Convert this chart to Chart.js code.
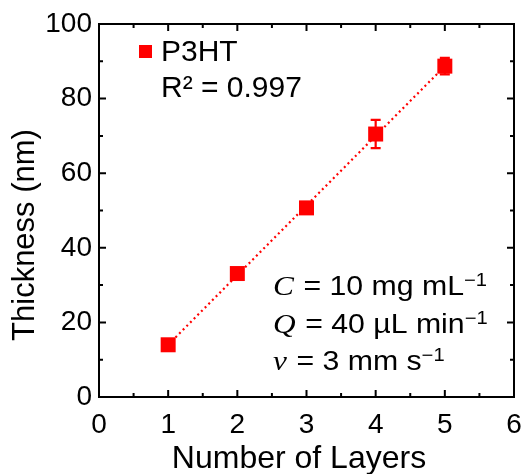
<!DOCTYPE html>
<html><head><meta charset="utf-8">
<script src="https://cdn.jsdelivr.net/npm/chart.js@4/dist/chart.umd.min.js"></script>
<style>html,body{margin:0;padding:0;background:#fff}#wrap{width:525px;height:474px}</style>
</head><body>
<div id="wrap"><canvas id="c" width="525" height="474"></canvas></div>
<script>
// ---- data ----
const layers = [1, 2, 3, 4, 5];
const thickness = [14.0, 33.1, 50.7, 70.5, 88.7];
const thicknessErr = [0.6, 1.0, 0.7, 3.8, 2.2];
const fitX = [1, 5];
const fitY = [14.0, 88.7];
const xTicks = [0, 1, 2, 3, 4, 5, 6];
const yTicks = [0, 20, 40, 60, 80, 100];
const seriesLabel = 'P3HT';
const r2Text = 'R² = 0.997';
const xTitle = 'Number of Layers';
const yTitle = 'Thickness (nm)';
const noteVars = ['C', 'Q', 'v'];
const noteTexts = [' = 10 mg mL', ' = 40 µL min', ' = 3 mm s'];
const noteSups = ['−1', '−1', '−1'];

const RED = '#ff0000';
const SANS = '"Liberation Sans", Arial, sans-serif';
const SERIF = '"Liberation Serif", "Times New Roman", serif';

const decor = {
  id: 'decor',
  beforeDatasetsDraw(chart) {
    const ctx = chart.ctx, xs = chart.scales.x, ys = chart.scales.y;
    ctx.save();
    ctx.strokeStyle = RED; ctx.lineWidth = 2.2;
    for (let i = 0; i < layers.length; i++) {
      const px = xs.getPixelForValue(layers[i]);
      const t = ys.getPixelForValue(thickness[i] + thicknessErr[i]);
      const b = ys.getPixelForValue(thickness[i] - thicknessErr[i]);
      ctx.beginPath();
      ctx.moveTo(px, t); ctx.lineTo(px, b);
      ctx.moveTo(px - 5, t); ctx.lineTo(px + 5, t);
      ctx.moveTo(px - 5, b); ctx.lineTo(px + 5, b);
      ctx.stroke();
    }
    ctx.restore();
  },
  afterDraw(chart) {
    const ctx = chart.ctx, a = chart.chartArea, xs = chart.scales.x, ys = chart.scales.y;
    ctx.save();
    // frame
    ctx.strokeStyle = '#000'; ctx.lineWidth = 2;
    ctx.strokeRect(a.left, a.top, a.right - a.left, a.bottom - a.top);
    // inward ticks (mirrored)
    const major = 7, minor = 4;
    ctx.beginPath();
    for (let i = 0; i < xTicks.length; i++) {
      const px = xs.getPixelForValue(xTicks[i]);
      ctx.moveTo(px, a.bottom); ctx.lineTo(px, a.bottom - major);
      ctx.moveTo(px, a.top); ctx.lineTo(px, a.top + major);
      if (i < xTicks.length - 1) {
        const pm = xs.getPixelForValue((xTicks[i] + xTicks[i + 1]) / 2);
        ctx.moveTo(pm, a.bottom); ctx.lineTo(pm, a.bottom - minor);
        ctx.moveTo(pm, a.top); ctx.lineTo(pm, a.top + minor);
      }
    }
    for (let i = 0; i < yTicks.length; i++) {
      const py = ys.getPixelForValue(yTicks[i]);
      ctx.moveTo(a.left, py); ctx.lineTo(a.left + major, py);
      ctx.moveTo(a.right, py); ctx.lineTo(a.right - major, py);
      if (i < yTicks.length - 1) {
        const pm = ys.getPixelForValue((yTicks[i] + yTicks[i + 1]) / 2);
        ctx.moveTo(a.left, pm); ctx.lineTo(a.left + minor, pm);
        ctx.moveTo(a.right, pm); ctx.lineTo(a.right - minor, pm);
      }
    }
    ctx.stroke();

    ctx.fillStyle = '#000';
    // axis titles
    ctx.font = '32px ' + SANS;
    ctx.textAlign = 'center'; ctx.textBaseline = 'alphabetic';
    ctx.fillText(xTitle, 299, 468);
    ctx.save();
    ctx.translate(34, 235); ctx.rotate(-Math.PI / 2);
    ctx.font = '31px ' + SANS;
    ctx.fillText(yTitle, 0, 0);
    ctx.restore();

    // legend
    ctx.fillStyle = RED;
    ctx.fillRect(139, 45, 13, 13);
    ctx.fillStyle = '#000';
    ctx.textAlign = 'left';
    ctx.font = '30px ' + SANS;
    ctx.fillText(seriesLabel, 161, 61);
    ctx.fillText(r2Text, 161, 97);

    // notes (slightly wide lettering as in the reference)
    const baselines = [295, 332.5, 370];
    for (let i = 0; i < noteVars.length; i++) {
      ctx.save();
      ctx.translate(273, baselines[i]);
      ctx.scale(1.12, 1);
      let x = 0;
      ctx.font = 'italic 28px ' + SERIF;
      ctx.fillText(noteVars[i], x, 0);
      x += ctx.measureText(noteVars[i]).width + 1;
      ctx.font = '27px ' + SANS;
      ctx.fillText(noteTexts[i], x, 0);
      x += ctx.measureText(noteTexts[i]).width;
      ctx.font = '18px ' + SANS;
      ctx.fillText(noteSups[i], x, -9);
      ctx.restore();
    }
    ctx.restore();
  }
};

new Chart(document.getElementById('c'), {
  type: 'scatter',
  data: {
    datasets: [
      {
        label: seriesLabel,
        data: layers.map((x, i) => ({ x: x, y: thickness[i] })),
        pointStyle: 'rect', pointRadius: 10.6, pointHoverRadius: 10.6,
        backgroundColor: RED, borderColor: RED, borderWidth: 0, showLine: false
      },
      {
        label: 'fit',
        type: 'line',
        data: fitX.map((x, i) => ({ x: x, y: fitY[i] })),
        borderColor: RED, borderWidth: 2.2, borderDash: [2, 3.2],
        pointRadius: 0, fill: false, tension: 0
      }
    ]
  },
  options: {
    responsive: false, animation: false,
    layout: { padding: { left: 0, right: 11, top: 24, bottom: 0 } },
    plugins: { legend: { display: false }, tooltip: { enabled: false } },
    scales: {
      x: {
        type: 'linear', min: 0, max: 6,
        afterBuildTicks: s => { s.ticks = xTicks.map(v => ({ value: v })); },
        afterFit: s => { s.height = 77; s.paddingLeft = 0; s.paddingRight = 0; },
        grid: { display: false, drawTicks: false },
        border: { display: false },
        ticks: { color: '#000', font: { family: SANS, size: 28 }, padding: 11, maxRotation: 0 }
      },
      y: {
        type: 'linear', min: 0, max: 100,
        afterBuildTicks: s => { s.ticks = yTicks.map(v => ({ value: v })); },
        afterFit: s => { s.width = 99; s.paddingTop = 0; s.paddingBottom = 0; },
        grid: { display: false, drawTicks: false },
        border: { display: false },
        ticks: { color: '#000', font: { family: SANS, size: 28 }, padding: 7 }
      }
    }
  },
  plugins: [decor]
});
</script>
</body></html>
